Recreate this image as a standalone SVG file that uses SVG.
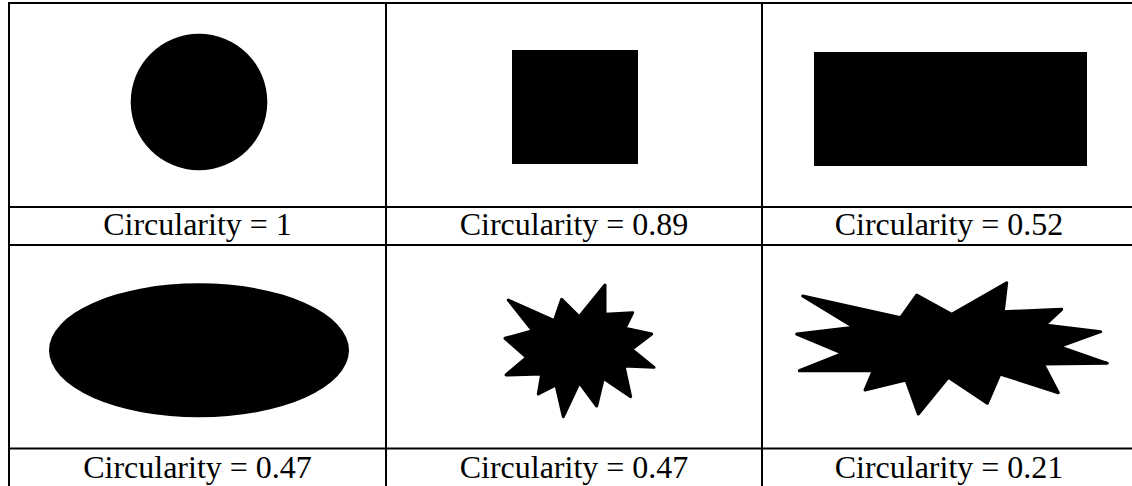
<svg xmlns="http://www.w3.org/2000/svg" width="1132" height="486" viewBox="0 0 1132 486">
<style>
.grid{stroke:#000;stroke-width:2;fill:none}
.shape{fill:#000}
.star{fill:#000;stroke:#000;stroke-width:3;stroke-linejoin:round}
.lbl{font-family:"Liberation Serif","Times New Roman",serif;font-size:32px;fill:#000;text-anchor:middle}
</style>
<rect width="1132" height="486" fill="#fff"/>
<g id="grid" class="grid">
<line x1="9" y1="3" x2="1136" y2="3"/>
<line x1="9" y1="207" x2="1136" y2="207"/>
<line x1="9" y1="245" x2="1136" y2="245"/>
<line x1="9" y1="448.5" x2="1136" y2="448.5"/>
<line x1="9" y1="2" x2="9" y2="490"/>
<line x1="386" y1="2" x2="386" y2="490"/>
<line x1="762" y1="2" x2="762" y2="490"/>
</g>
<g id="circle"><circle class="shape" cx="199" cy="102" r="68.3"/><text class="lbl" x="197.5" y="235">Circularity = 1</text></g>
<g id="square"><rect class="shape" x="512" y="50" width="126" height="114"/><text class="lbl" x="574" y="235">Circularity = 0.89</text></g>
<g id="rectangle"><rect class="shape" x="814" y="52" width="273" height="114"/><text class="lbl" x="949" y="235">Circularity = 0.52</text></g>
<g id="ellipse"><ellipse class="shape" cx="199" cy="350.3" rx="150" ry="67"/><text class="lbl" x="197.5" y="478">Circularity = 0.47</text></g>
<g id="star"><polygon class="star" points="508.3,300 554.3,320.7 561.7,299.3 579.3,316.7 605,285 605,314.3 632.7,312.7 625,328.3 651.7,334 631.7,349.3 654,367.3 624,366 630.7,396.7 603.3,378.3 596.7,406 579.3,382.7 563.3,416.7 556,385 538.3,394 541.7,374 506,375 526.7,357.3 505,338.3 532.7,330.7"/><text class="lbl" x="574" y="478">Circularity = 0.47</text></g>
<g id="burst"><polygon class="star" points="802.7,296 900.7,317.7 916.7,295 951.7,314.3 1006.7,282.7 1003.3,311.7 1061.7,309.3 1045,325 1100.7,331.7 1059.3,346.7 1107.3,363.3 1043.3,364 1058.3,392.7 1000,374 987.3,403.3 948.3,377.3 918.3,414 906,380 865,390 873.3,370.7 799.3,370.7 842.7,353.3 796.7,334 854,327.3"/><text class="lbl" x="949" y="478">Circularity = 0.21</text></g>
</svg>
